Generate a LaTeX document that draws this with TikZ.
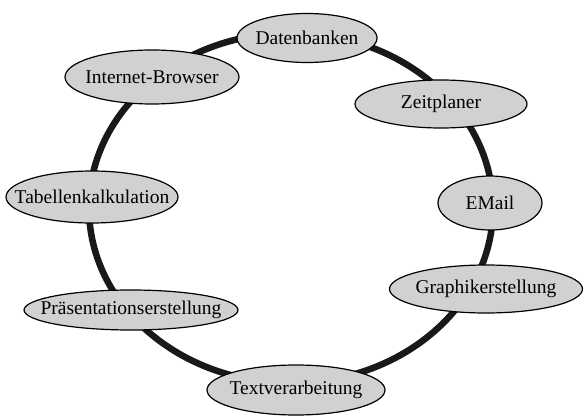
\documentclass[tikz,border=0pt]{standalone}
\usepackage{fontspec}
\setmainfont{Liberation Serif}
\usetikzlibrary{shapes.geometric}

\begin{document}
\begin{tikzpicture}
        [
            x=1pt, y=1pt,
            ring/.style={line width=6.5pt, black!90},
            prog/.style={ellipse, draw, line width=1.2pt, fill=black!18,
                inner sep=0pt, font=\fontsize{19.5}{20}\selectfont,
                execute at begin node=\hbox to 0pt\bgroup\hss,
                execute at end node=\hss\egroup},
        ]
        \useasboundingbox (0,0) rectangle (584,416);
        % the ring behind the programs
        \coordinate (mitte) at (291,208);
        \draw[ring] (mitte) ellipse [x radius=202, y radius=175];
        % programs round the ring
        \node[prog, minimum width=140, minimum height=49] (daten) at (307,378) {Datenbanken};
        \node[prog, minimum width=174, minimum height=54] (browser) at (152,339) {Internet-Browser};
        \node[prog, minimum width=172, minimum height=48] (zeit) at (441,312) {Zeitplaner};
        \node[prog, minimum width=104, minimum height=54] (email) at (490,213) {EMail};
        \node[prog, minimum width=193, minimum height=48] (grafik) at (486,127) {Graphikerstellung};
        \node[prog, minimum width=178, minimum height=50] (text) at (296,26) {Textverarbeitung};
        \node[prog, minimum width=214, minimum height=40] (praes) at (131,106) {Präsentationserstellung};
        \node[prog, minimum width=172, minimum height=52] (tabelle) at (92,219) {Tabellenkalkulation};
    \end{tikzpicture}
\end{document}
